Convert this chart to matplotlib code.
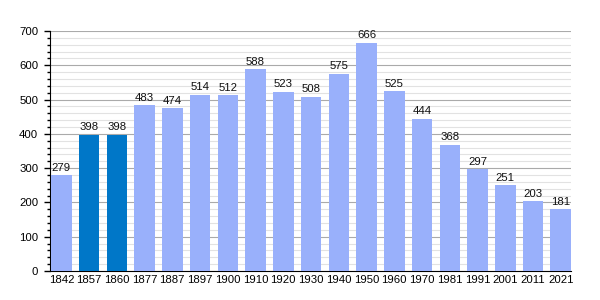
import matplotlib
matplotlib.use("Agg")
import matplotlib.pyplot as plt
from matplotlib.ticker import MultipleLocator

years = ["1842", "1857", "1860", "1877", "1887", "1897", "1900", "1910", "1920", "1930",
         "1940", "1950", "1960", "1970", "1981", "1991", "2001", "2011", "2021"]
population = [279, 398, 398, 483, 474, 514, 512, 588, 523, 508,
              575, 666, 525, 444, 368, 297, 251, 203, 181]
highlight = ["1857", "1860"]

light = "#99b0fb"
dark = "#0077c8"

fig = plt.figure(figsize=(6, 3), dpi=100)
ax = fig.add_axes([50/600, 29/300, 521/600, 240/300])

x = list(range(len(years)))
w = 0.74
colors = [dark if y in highlight else light for y in years]
ax.bar(x, population, width=w, color=colors, zorder=3)
for xi, v in zip(x, population):
    ax.text(xi, v + 7, str(v), ha="center", va="bottom", fontsize=8.2, color="#111111", zorder=4,
            family="Liberation Sans")

ax.set_xlim(-w/2 - 0.04, len(years) - 1 + w/2)
ax.set_ylim(0, 700)
ax.yaxis.set_major_locator(MultipleLocator(100))
ax.yaxis.set_minor_locator(MultipleLocator(20))
ax.grid(axis="y", which="major", color="#aaaaaa", linewidth=0.8, zorder=0)
ax.grid(axis="y", which="minor", color="#e2e2e2", linewidth=0.8, zorder=0)
ax.set_xticks(x)
ax.set_xticklabels(years)
for lab in ax.get_xticklabels() + ax.get_yticklabels():
    lab.set_family("Liberation Sans")
    lab.set_fontsize(8.2)
ax.tick_params(axis="x", length=0, pad=3)
ax.tick_params(axis="y", which="major", length=4.5, width=1, pad=4)
ax.tick_params(axis="y", which="minor", length=2.2, width=1)
for s in ["top", "right"]:
    ax.spines[s].set_visible(False)
ax.spines["left"].set_color("black")
ax.spines["bottom"].set_color("black")
ax.set_facecolor("white")

fig.savefig("out.png", dpi=100)
